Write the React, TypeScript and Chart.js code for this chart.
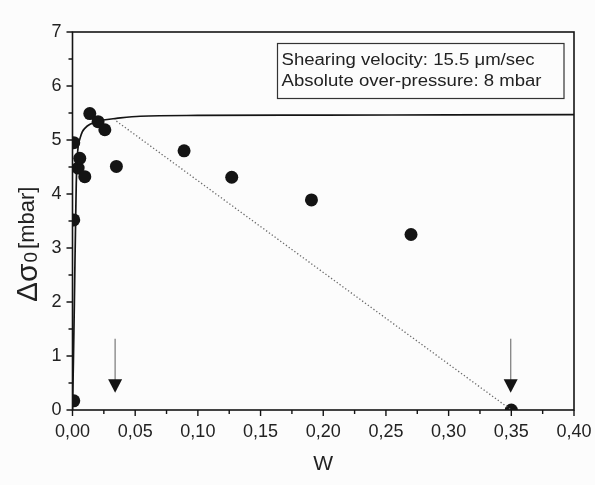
import React, { useEffect, useRef } from 'react';
import { Chart, registerables } from 'chart.js';

Chart.register(...registerables);

// Measured points: W and Δσ0 [mbar]
const measuredW = [0.001, 0.001, 0.001, 0.0045, 0.0058, 0.0098, 0.0138, 0.0204, 0.0258, 0.035, 0.089, 0.127, 0.1906, 0.270, 0.350];
const measuredDS = [0.17, 3.52, 4.95, 4.48, 4.66, 4.32, 5.49, 5.34, 5.19, 4.51, 4.80, 4.31, 3.89, 3.25, 0.0];

// Fitted curve
const fitW = [0, 0.0008, 0.0015, 0.002, 0.0025, 0.003, 0.0036, 0.0045, 0.006, 0.0078, 0.01, 0.014, 0.02, 0.0245, 0.035, 0.054, 0.1, 0.2, 0.3, 0.4];
const fitDS = [0, 1.0, 2.0, 2.8, 3.5, 4.2, 4.6, 4.88, 5.03, 5.15, 5.22, 5.29, 5.34, 5.37, 5.4, 5.44, 5.455, 5.46, 5.465, 5.47];

// Dotted extrapolation line
const extrapW = [0.035, 0.35];
const extrapDS = [5.35, 0];

// Arrows (x positions, shaft top value, tip value)
const arrowW = [0.034, 0.3495];
const arrowFromDS = 1.32;
const arrowToDS = 0.32;

const xTickValues = [0, 0.05, 0.1, 0.15, 0.2, 0.25, 0.3, 0.35, 0.4];
const yTickValues = [0, 1, 2, 3, 4, 5, 6, 7];
const legendLines = ['Shearing velocity: 15.5 \u03BCm/sec', 'Absolute over-pressure: 8 mbar'];
const xTitle = 'W';
const yTitleMain = '\u0394\u03C3';
const yTitleSub = '0';
const yTitleUnit = '[mbar]';

const FAMILY = '"Liberation Sans", Arial, Helvetica, sans-serif';
const INK = '#141414';

const decor = {
  id: 'decor',
  afterDraw(chart: any) {
    const { ctx, chartArea } = chart;
    const xs = chart.scales.x;
    const ys = chart.scales.y;
    const { left, right, top, bottom } = chartArea;
    ctx.save();

    // frame
    ctx.strokeStyle = INK;
    ctx.lineWidth = 1.6;
    ctx.strokeRect(left, top, right - left, bottom - top);

    // ticks
    ctx.lineWidth = 1.4;
    ctx.beginPath();
    xTickValues.forEach((v, i) => {
      const px = xs.getPixelForValue(v);
      ctx.moveTo(px, bottom);
      ctx.lineTo(px, bottom + 6);
      if (i < xTickValues.length - 1) {
        const m = xs.getPixelForValue((v + xTickValues[i + 1]) / 2);
        ctx.moveTo(m, bottom);
        ctx.lineTo(m, bottom + 4);
      }
    });
    yTickValues.forEach((v, i) => {
      const py = ys.getPixelForValue(v);
      ctx.moveTo(left, py);
      ctx.lineTo(left - 6, py);
      if (i < yTickValues.length - 1) {
        const m = ys.getPixelForValue((v + yTickValues[i + 1]) / 2);
        ctx.moveTo(left, m);
        ctx.lineTo(left - 4, m);
      }
    });
    ctx.stroke();

    // arrows
    arrowW.forEach((w) => {
      const px = xs.getPixelForValue(w);
      const y0 = ys.getPixelForValue(arrowFromDS);
      const y1 = ys.getPixelForValue(arrowToDS);
      const headLen = 13.5;
      ctx.strokeStyle = '#8a8a8a';
      ctx.lineWidth = 1.4;
      ctx.beginPath();
      ctx.moveTo(px, y0);
      ctx.lineTo(px, y1 - headLen + 1);
      ctx.stroke();
      ctx.fillStyle = INK;
      ctx.beginPath();
      ctx.moveTo(px - 7, y1 - headLen);
      ctx.lineTo(px + 7, y1 - headLen);
      ctx.lineTo(px, y1);
      ctx.closePath();
      ctx.fill();
    });

    // legend box
    ctx.fillStyle = '#fcfcfc';
    ctx.fillRect(277.5, 43.5, 286.5, 55);
    ctx.strokeStyle = '#333';
    ctx.lineWidth = 1.2;
    ctx.strokeRect(277.5, 43.5, 286.5, 55);
    ctx.fillStyle = '#222';
    ctx.font = '16px ' + FAMILY;
    ctx.textBaseline = 'alphabetic';
    ctx.textAlign = 'left';
    legendLines.forEach((t, i) => {
      ctx.save();
      ctx.translate(281.5, 64.5 + i * 21);
      ctx.scale(1.16, 1);
      ctx.fillText(t, 0, 0);
      ctx.restore();
    });

    // y title
    ctx.save();
    ctx.translate(37, 302);
    ctx.rotate(-Math.PI / 2);
    ctx.fillStyle = '#222';
    ctx.textBaseline = 'alphabetic';
    ctx.font = '30px ' + FAMILY;
    ctx.fillText(yTitleMain, 0, 0);
    let off = ctx.measureText(yTitleMain).width + 1;
    ctx.font = '19px ' + FAMILY;
    ctx.fillText(yTitleSub, off, 0);
    off += ctx.measureText(yTitleSub).width + 3;
    ctx.font = '22px ' + FAMILY;
    ctx.fillText(yTitleUnit, off, -3);
    ctx.restore();

    ctx.restore();
  },
};

export default function App() {
  const ref = useRef<HTMLCanvasElement>(null);
  useEffect(() => {
    const chart = new Chart(ref.current as HTMLCanvasElement, {
      type: 'scatter',
      data: {
        datasets: [
          {
            label: 'fit',
            data: fitW.map((x, i) => ({ x, y: fitDS[i] })),
            showLine: true,
            borderColor: INK,
            borderWidth: 1.7,
            pointRadius: 0,
            cubicInterpolationMode: 'monotone',
            fill: false,
            clip: 0,
          } as any,
          {
            label: 'extrap',
            data: extrapW.map((x, i) => ({ x, y: extrapDS[i] })),
            showLine: true,
            borderColor: '#6a6a6a',
            borderWidth: 1.3,
            borderDash: [1.3, 2.2],
            pointRadius: 0,
            fill: false,
            clip: 0,
          } as any,
          {
            label: 'measured',
            data: measuredW.map((x, i) => ({ x, y: measuredDS[i] })),
            showLine: false,
            pointRadius: 6.5,
            pointBackgroundColor: INK,
            pointBorderColor: INK,
            pointBorderWidth: 0,
            clip: 0,
          } as any,
        ],
      },
      options: {
        responsive: false,
        animation: false,
        layout: { padding: { top: 32, right: 21, left: 0, bottom: 0 } },
        plugins: { legend: { display: false }, tooltip: { enabled: false } },
        scales: {
          x: {
            type: 'linear',
            min: 0,
            max: 0.4,
            afterBuildTicks: (s: any) => {
              s.ticks = xTickValues.map((v) => ({ value: v }));
            },
            afterFit: (s: any) => {
              s.height = 75;
              s.paddingLeft = 0;
              s.paddingRight = 0;
            },
            grid: { display: false, drawTicks: false },
            border: { display: false },
            ticks: {
              padding: 11,
              color: '#222',
              font: { family: FAMILY, size: 18 },
              maxRotation: 0,
              autoSkip: false,
              callback: (v: any) => Number(v).toFixed(2).replace('.', ','),
            },
            title: {
              display: true,
              text: xTitle,
              color: '#222',
              font: { family: FAMILY, size: 21 },
              padding: { top: 0, bottom: 8 },
            },
          },
          y: {
            type: 'linear',
            min: 0,
            max: 7,
            afterBuildTicks: (s: any) => {
              s.ticks = yTickValues.map((v) => ({ value: v }));
            },
            afterFit: (s: any) => {
              s.width = 72.5;
              s.paddingTop = 0;
              s.paddingBottom = 0;
            },
            grid: { display: false, drawTicks: false },
            border: { display: false },
            ticks: {
              padding: 11,
              color: '#222',
              font: { family: FAMILY, size: 18 },
              callback: (v: any) => String(v),
            },
          },
        },
      } as any,
      plugins: [decor],
    });
    return () => chart.destroy();
  }, []);
  return (
    <div style={{ position: 'absolute', left: 0, top: 0, width: 595, height: 485, background: '#fcfcfc' }}>
      <canvas ref={ref} width={595} height={485} style={{ display: 'block', width: 595, height: 485 }} />
    </div>
  );
}
